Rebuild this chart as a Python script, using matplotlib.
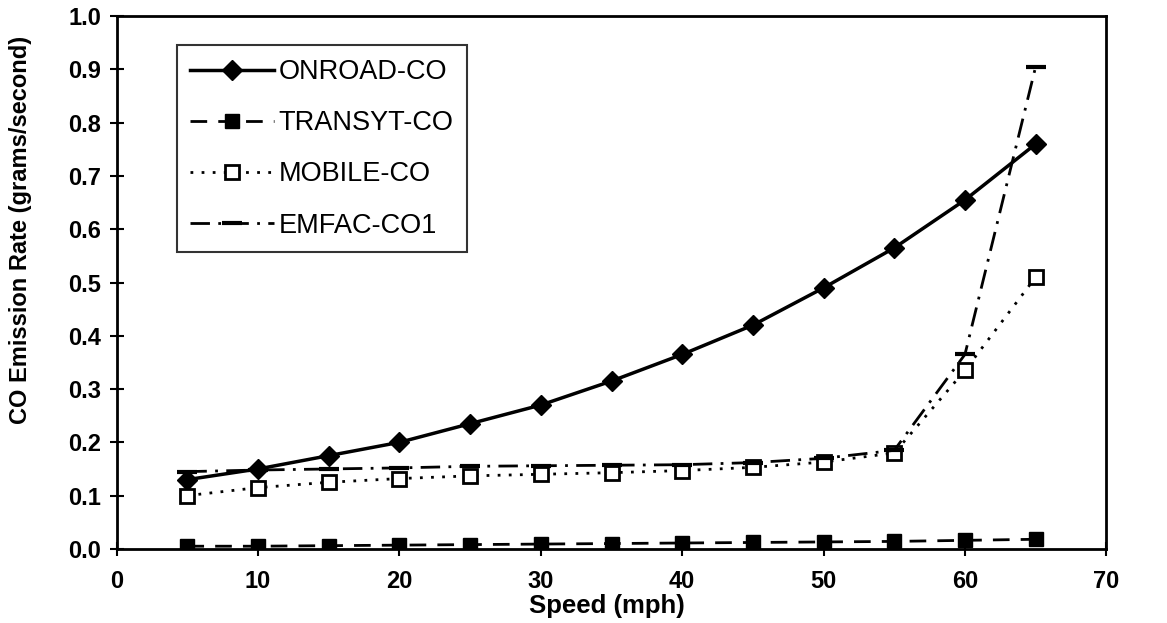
import matplotlib
matplotlib.use("Agg")
import matplotlib.pyplot as plt

plt.rcParams['font.family'] = ['Liberation Sans', 'DejaVu Sans']

speed = [5, 10, 15, 20, 25, 30, 35, 40, 45, 50, 55, 60, 65]
onroad_co = [0.13, 0.15, 0.175, 0.20, 0.235, 0.27, 0.315, 0.365, 0.42, 0.49, 0.565, 0.655, 0.76]
transyt_co = [0.005, 0.005, 0.006, 0.007, 0.008, 0.009, 0.010, 0.011, 0.012, 0.013, 0.014, 0.016, 0.018]
mobile_co = [0.10, 0.115, 0.125, 0.132, 0.137, 0.140, 0.143, 0.147, 0.153, 0.163, 0.180, 0.335, 0.51]
emfac_co1 = [0.145, 0.148, 0.150, 0.152, 0.155, 0.156, 0.157, 0.158, 0.162, 0.170, 0.185, 0.365, 0.905]

x_ticks = [0, 10, 20, 30, 40, 50, 60, 70]
y_ticks = [0.0, 0.1, 0.2, 0.3, 0.4, 0.5, 0.6, 0.7, 0.8, 0.9, 1.0]

fig = plt.figure(figsize=(11.67, 6.23), dpi=100)
ax = fig.add_axes([0.100, 0.119, 0.848, 0.855])

ax.plot(speed, onroad_co, color='black', lw=2.5, marker='D', ms=10, label='ONROAD-CO')
ax.plot(speed, transyt_co, color='black', lw=2.0, ls=(0, (6, 4)), marker='s', ms=10, label='TRANSYT-CO')
ax.plot(speed, mobile_co, color='black', lw=2.0, ls=(0, (1, 3)), marker='s', ms=10,
        mfc='white', mec='black', mew=2.0, label='MOBILE-CO')
ax.plot(speed, emfac_co1, color='black', lw=2.0, ls=(0, (7, 3, 1, 3)), marker='_', ms=15,
        mew=3.0, label='EMFAC-CO1')

ax.set_xlim(0, 70)
ax.set_ylim(0, 1.0)
ax.set_xticks(x_ticks)
ax.set_yticks(y_ticks)
ax.set_xticklabels([str(v) for v in x_ticks])
ax.set_yticklabels([f"{v:.1f}" for v in y_ticks])
ax.tick_params(axis='both', labelsize=17, direction='inout', length=10, width=1.5,
               colors='black')
ax.tick_params(axis='x', pad=10)
ax.tick_params(axis='y', pad=6)
for lbl in ax.get_xticklabels() + ax.get_yticklabels():
    lbl.set_fontweight('bold')

for side in ['left', 'bottom', 'top', 'right']:
    ax.spines[side].set_linewidth(2.0)
    ax.spines[side].set_color('black')

ax.set_xlabel('Speed (mph)', fontsize=18.5, fontweight='bold')
ax.set_ylabel('CO Emission Rate (grams/second)', fontsize=17, fontweight='bold')
ax.xaxis.set_label_coords(0.495, -0.1075)
ax.xaxis.label.set_verticalalignment('center')
ax.yaxis.set_label_coords(-0.097, 0.598)
ax.yaxis.label.set_verticalalignment('center')

leg = ax.legend(loc='upper left', bbox_to_anchor=(0.0607, 0.945), fontsize=19.5, frameon=True,
                fancybox=False, edgecolor='black', handlelength=3.1, borderpad=0.5,
                labelspacing=0.93, handletextpad=0.15, borderaxespad=0)
leg.get_frame().set_linewidth(1.5)

fig.savefig('out.png', dpi=100)
